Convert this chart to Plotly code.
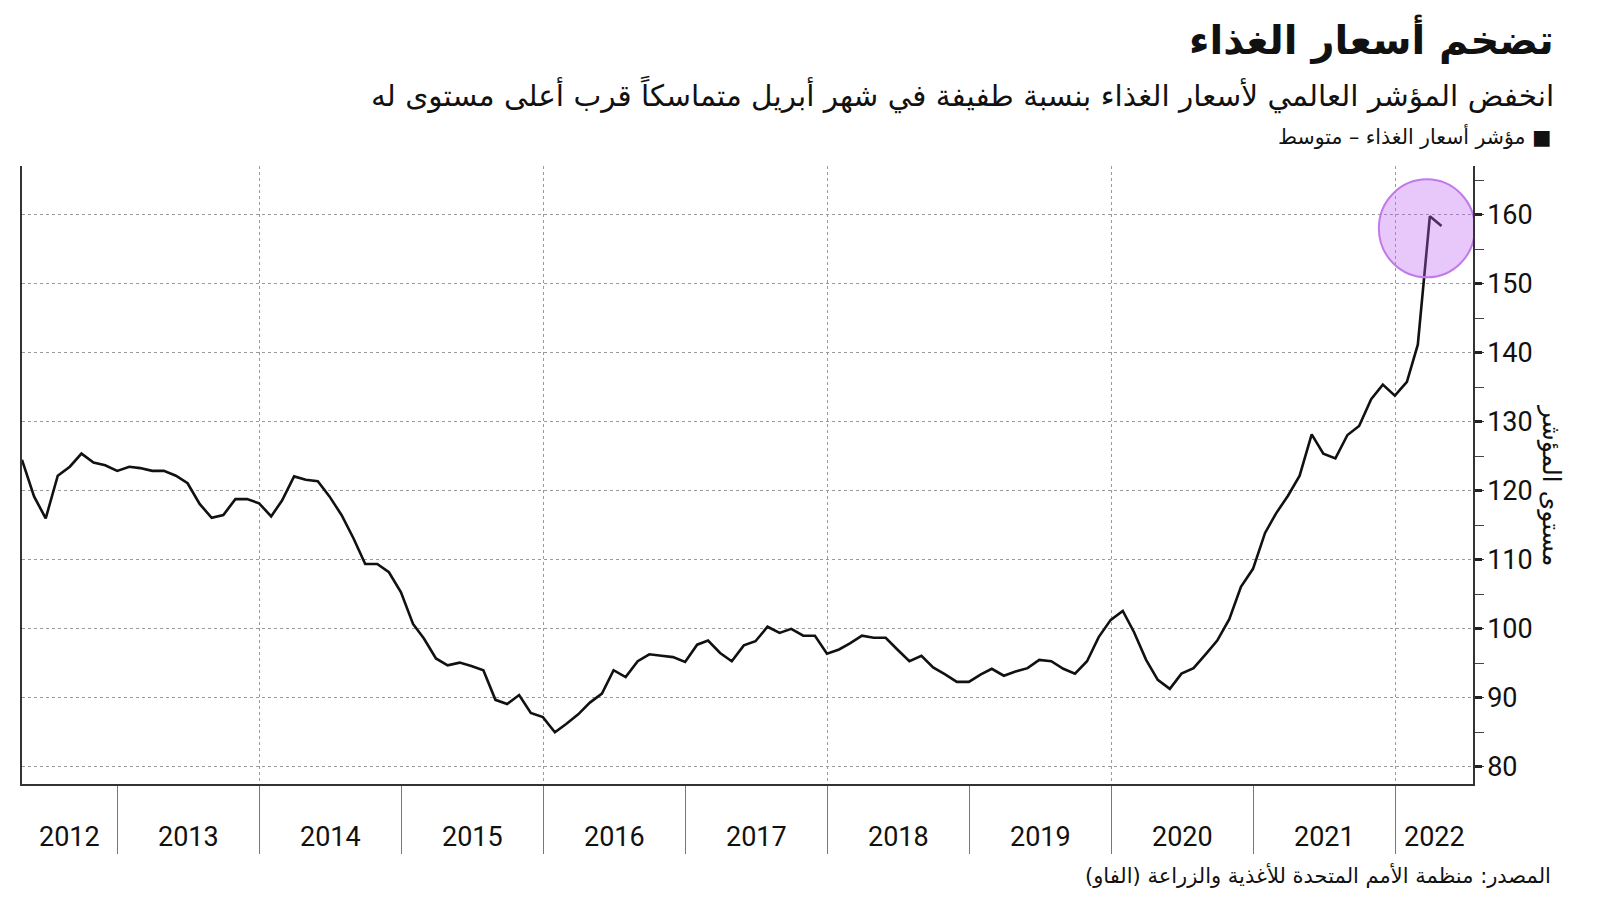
import pandas as pd
import plotly.graph_objects as go

# ---- data (FAO Food Price Index, monthly, Apr 2012 - Apr 2022) ----
start_month = "2012-04-30"
index_values = [
    124.5, 119.2, 116.0, 122.2, 123.5, 125.4, 124.1, 123.7, 122.9,          # 2012 Apr-Dec
    123.5, 123.3, 122.9, 122.9, 122.2, 121.1, 118.1, 116.1, 116.5, 118.8, 118.8, 118.2,  # 2013
    116.3, 118.6, 122.1, 121.6, 121.4, 119.2, 116.5, 113.1, 109.4, 109.4, 108.2, 105.3,  # 2014
    100.7, 98.6, 95.7, 94.7, 95.1, 94.6, 94.0, 89.7, 89.1, 90.4, 87.8, 87.2,             # 2015
    85.0, 86.2, 87.6, 89.3, 90.6, 94.0, 93.0, 95.3, 96.3, 96.1, 95.9, 95.2,              # 2016
    97.7, 98.3, 96.5, 95.3, 97.6, 98.2, 100.3, 99.4, 100.0, 99.0, 99.0, 96.4,            # 2017
    97.0, 97.9, 99.0, 98.7, 98.7, 97.0, 95.3, 96.1, 94.4, 93.4, 92.3, 92.3,              # 2018
    93.4, 94.2, 93.2, 93.8, 94.3, 95.5, 95.3, 94.2, 93.5, 95.3, 98.8, 101.3,             # 2019
    102.6, 99.5, 95.5, 92.6, 91.3, 93.5, 94.3, 96.3, 98.3, 101.4, 106.1, 108.7,          # 2020
    113.9, 116.7, 119.3, 122.2, 128.2, 125.4, 124.7, 128.1, 129.4, 133.3, 135.4, 133.8,  # 2021
    135.8, 141.2, 159.8, 158.4,                                                          # 2022 Jan-Apr
]
dates = pd.date_range(start_month, periods=len(index_values), freq="ME")

years = [2012, 2013, 2014, 2015, 2016, 2017, 2018, 2019, 2020, 2021, 2022]
y_ticks = [80, 90, 100, 110, 120, 130, 140, 150, 160]

title = "تضخم أسعار الغذاء"
subtitle = "انخفض المؤشر العالمي لأسعار الغذاء بنسبة طفيفة في شهر أبريل متماسكاً قرب أعلى مستوى له"
legend_text = "■ مؤشر أسعار الغذاء – متوسط"
y_title = "مستوى المؤشر"
source = "المصدر: منظمة الأمم المتحدة للأغذية والزراعة (الفاو)"

RLE, PDF = "\u202b", "\u202c"
def rtl(s):
    return RLE + s + PDF

ARABIC_FONT = "DejaVu Sans, Noto Sans, sans-serif"
NUM_FONT = "Roboto, Liberation Sans, sans-serif"

x_start = pd.Timestamp(start_month)
x_end = pd.Timestamp("2022-07-20")
boundaries = [pd.Timestamp(f"{y}-01-01") for y in years[1:]]
grid_years = [pd.Timestamp(f"{y}-01-01") for y in years if y % 2 == 0 and y > years[0]]

fig = go.Figure()
fig.add_trace(go.Scatter(
    x=dates, y=index_values, mode="lines",
    line=dict(color="#111111", width=2.6),
    hoverinfo="skip", showlegend=False,
))

# highlight circle around the latest peak
peak_i = max(range(len(index_values)), key=lambda i: index_values[i])
fig.add_shape(
    type="circle", xref="x", yref="y",
    xsizemode="pixel", ysizemode="pixel",
    xanchor=dates[peak_i], yanchor=index_values[peak_i],
    x0=-51, x1=45, y0=-61, y1=37,
    fillcolor="rgba(189,98,241,0.35)",
    line=dict(color="#c17ae9", width=2),
    layer="above",
)

# year labels centred in each year span
edges = [x_start] + boundaries + [x_end]
annotations = []
for i, yr in enumerate(years):
    mid = edges[i] + (edges[i + 1] - edges[i]) / 2
    annotations.append(dict(
        x=mid, y=-0.086, xref="x", yref="paper", text=str(yr),
        showarrow=False, xanchor="center", yanchor="middle",
        font=dict(family=NUM_FONT, size=27, color="#111"),
    ))

annotations += [
    dict(x=1.0571, y=1.205, xref="paper", yref="paper", text=rtl(title),
         showarrow=False, xanchor="right", yanchor="middle",
         font=dict(family=ARABIC_FONT, size=40, color="#111", weight="bold")),
    dict(x=1.0571, y=1.1149, xref="paper", yref="paper", text=rtl(subtitle),
         showarrow=False, xanchor="right", yanchor="middle",
         font=dict(family=ARABIC_FONT, size=29.5, color="#111")),
    dict(x=1.0555, y=1.0485, xref="paper", yref="paper", text=rtl(legend_text),
         showarrow=False, xanchor="right", yanchor="middle",
         font=dict(family=ARABIC_FONT, size=20.5, color="#111")),
    dict(x=1.0544, y=0.4838, xref="paper", yref="paper", text=rtl(y_title),
         showarrow=False, xanchor="center", yanchor="middle", textangle=90,
         font=dict(family=ARABIC_FONT, size=25, color="#111")),
    dict(x=1.055, y=-0.1489, xref="paper", yref="paper", text=rtl(source),
         showarrow=False, xanchor="right", yanchor="middle",
         font=dict(family=ARABIC_FONT, size=21, color="#111")),
]

fig.update_layout(
    width=1600, height=901,
    margin=dict(l=22, r=127, t=166, b=117),
    paper_bgcolor="white", plot_bgcolor="white",
    annotations=annotations,
    xaxis=dict(
        type="date", range=[x_start, x_end],
        tickmode="array", tickvals=grid_years, showticklabels=False, ticks="",
        showgrid=True, gridcolor="#9a9a9a", griddash="dot", gridwidth=1,
        minor=dict(tickmode="array", tickvals=boundaries, ticks="outside",
                   ticklen=68, tickcolor="#777777", tickwidth=1, showgrid=False),
        showline=True, linecolor="#333333", linewidth=1.5,
        zeroline=False, fixedrange=True,
    ),
    yaxis=dict(
        side="right", range=[77.5, 167.1],
        tickmode="array", tickvals=y_ticks,
        ticks="outside", ticklen=7, tickwidth=3, tickcolor="#222",
        tickfont=dict(family=NUM_FONT, size=27, color="#111"),
        minor=dict(dtick=5, tick0=0, ticks="outside", ticklen=9, tickwidth=1,
                   tickcolor="#444", showgrid=False),
        showgrid=True, gridcolor="#9a9a9a", griddash="dot", gridwidth=1,
        showline=True, linecolor="#333333", linewidth=1.5, mirror=True,
        zeroline=False, fixedrange=True,
    ),
)

fig.write_html("out.html")
